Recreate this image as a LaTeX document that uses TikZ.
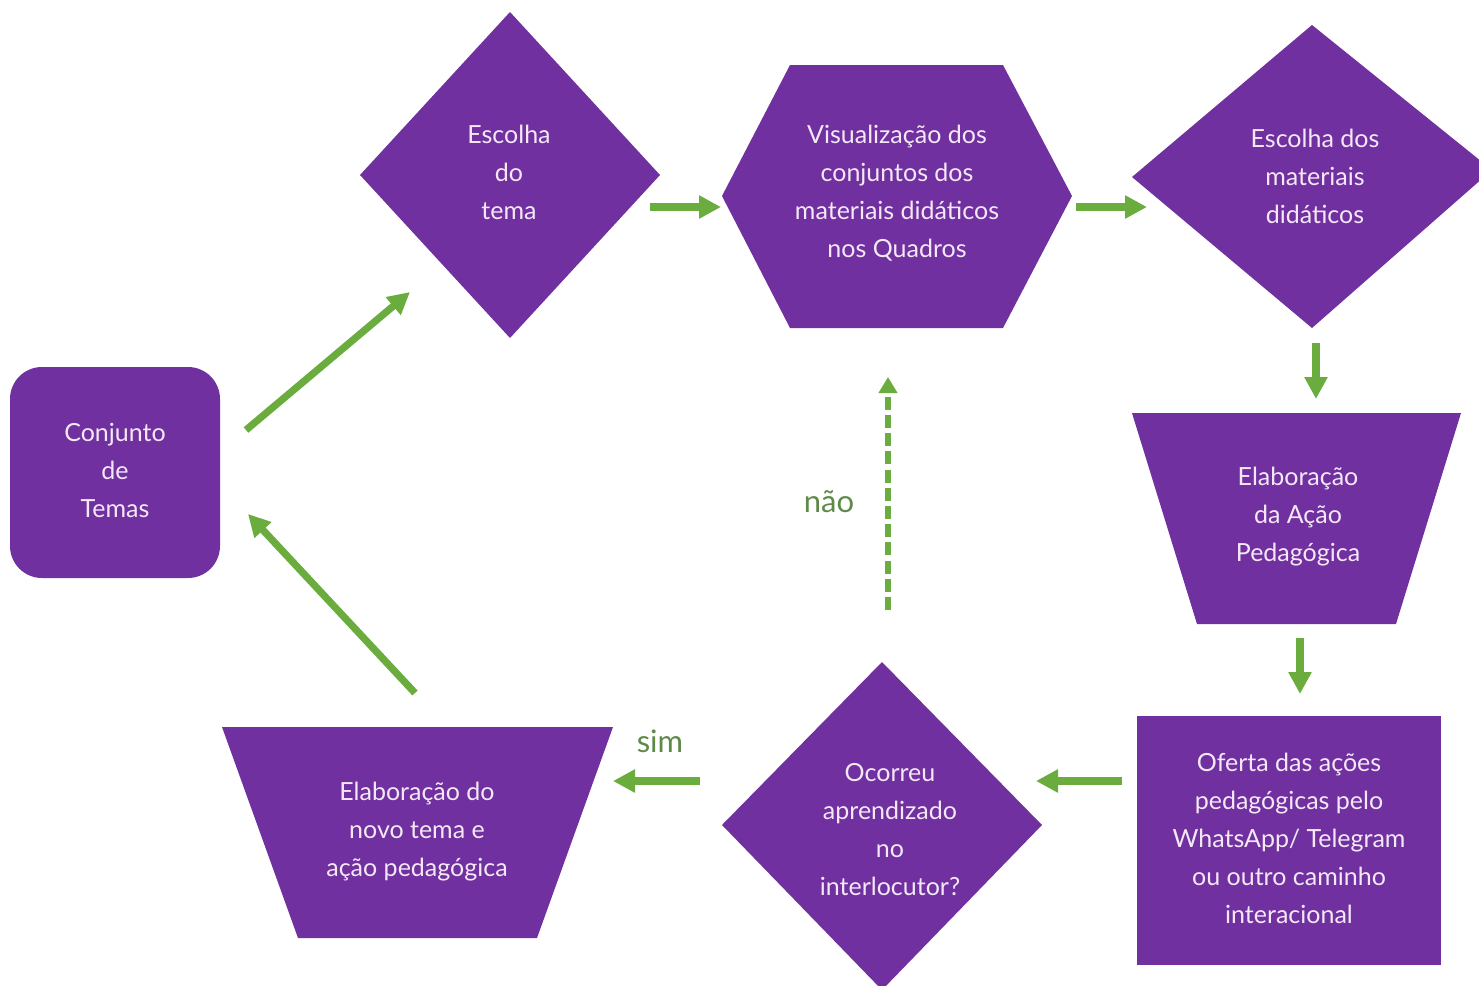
\documentclass[tikz,border=0pt]{standalone}
\usepackage{fontspec}
\setmainfont{Lato}
\usetikzlibrary{arrows.meta}
\definecolor{purp}{HTML}{7030A0}
\definecolor{grn}{HTML}{6AAD3E}
\definecolor{lblgrn}{HTML}{5E8A48}
\definecolor{txt}{HTML}{F4E8F6}
\begin{document}
\begin{tikzpicture}[x=0.5pt,y=-0.5pt,
  shp/.style={fill=purp,draw=none},
  lbl/.style={text=txt,align=center,inner sep=0pt,font=\fontsize{12.5}{19}\selectfont},
  arr/.style={draw=grn,line width=3.6pt,-{Triangle[length=11pt,width=11pt]}},
  darr/.style={draw=grn,line width=2.6pt,dash pattern=on 6.5pt off 2.6pt,-{Triangle[length=8pt,width=9pt]}},
  yn/.style={text=lblgrn,font=\fontsize{15.5}{18}\selectfont}]
\useasboundingbox (0,0) rectangle (1479,986);
\clip (0,0) rectangle (1479,986);
% shapes
\fill[shp,rounded corners=16pt] (10,367) rectangle (220,578);
\fill[shp] (510,12) -- (660,175) -- (510,338) -- (360,175) -- cycle;
\fill[shp] (722,196) -- (790,65) -- (1003,65) -- (1072,196) -- (1003,328) -- (790,328) -- cycle;
\fill[shp] (1312,25) -- (1492,170) -- (1312,328) -- (1132,177) -- cycle;
\fill[shp] (1132,413) -- (1461,413) -- (1396,624) -- (1197,624) -- cycle;
\fill[shp] (1137,716) rectangle (1441,965);
\fill[shp] (882,662) -- (1042,825) -- (882,990) -- (722,825) -- cycle;
\fill[shp] (222,727) -- (613,727) -- (537,938) -- (298,938) -- cycle;
% texts
\node[lbl] (temas) at (115,470) {Conjunto\\de\\Temas};
\node[lbl] (tema) at (509,172) {Escolha\\do\\tema};
\node[lbl] (visual) at (897,193) {Visualização dos\\conjuntos dos\\materiais didáticos\\nos Quadros};
\node[lbl] (escolha) at (1315,176) {Escolha dos\\materiais\\didáticos};
\node[lbl] (elab) at (1298,517) {Elaboração\\da Ação\\Pedagógica};
\node[lbl] (oferta) at (1289,838) {Oferta das ações\\pedagógicas pelo\\WhatsApp/ Telegram\\ou outro caminho\\interacional};
\node[lbl] (ocorreu) at (890,830) {Ocorreu\\aprendizado\\no\\interlocutor?};
\node[lbl] (novo) at (417,832) {Elaboração do\\novo tema e\\ação pedagógica};
\node[yn] (nao) at (829,502) {não};
\node[yn] (sim) at (660,741) {sim};
% connector ends
\coordinate (c1a) at (246,430); \coordinate (c1b) at (410,292);
\coordinate (c2a) at (650,207); \coordinate (c2b) at (721,207);
\coordinate (c3a) at (1076,207); \coordinate (c3b) at (1147,207);
\coordinate (c4a) at (1316,343); \coordinate (c4b) at (1316,399);
\coordinate (c5a) at (1300,638); \coordinate (c5b) at (1300,694);
\coordinate (c6a) at (1122,781); \coordinate (c6b) at (1036,781);
\coordinate (c7a) at (700,781); \coordinate (c7b) at (613,781);
\coordinate (c8a) at (415,693); \coordinate (c8b) at (248,514);
\coordinate (c9a) at (888,610); \coordinate (c9b) at (888,377);
% connectors
\draw[arr] (c1a) -- (c1b);
\draw[arr] (c2a) -- (c2b);
\draw[arr] (c3a) -- (c3b);
\draw[arr] (c4a) -- (c4b);
\draw[arr] (c5a) -- (c5b);
\draw[arr] (c6a) -- (c6b);
\draw[arr] (c7a) -- (c7b);
\draw[arr] (c8a) -- (c8b);
\draw[darr] (c9a) -- (c9b);
\end{tikzpicture}
\end{document}
